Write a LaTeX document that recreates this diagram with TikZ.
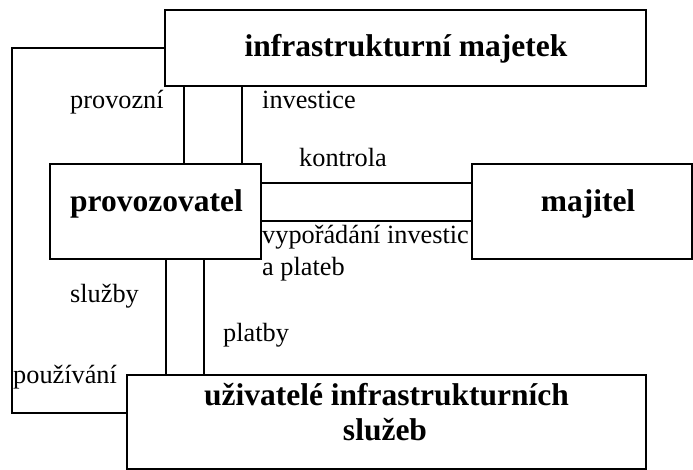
\documentclass[tikz,border=0pt]{standalone}
\usepackage{fontspec}
\setmainfont{Liberation Serif}
\begin{document}
\begin{tikzpicture}[x=1pt,y=-1pt,
  box/.style={draw,line width=2pt,rectangle,inner sep=0pt},
  title/.style={inner sep=0pt,anchor=base,font=\fontsize{31.5}{36}\selectfont\bfseries},
  lbl/.style={inner sep=0pt,anchor=base west,font=\fontsize{26.3}{30}\selectfont},
  link/.style={line width=2pt}]
\useasboundingbox (0,0) rectangle (693,470);
% boxes
\node[box,minimum width=481pt,minimum height=76pt] (asset) at (405.5,48) {};
\node[box,minimum width=211pt,minimum height=95pt] (oper) at (155.5,211.5) {};
\node[box,minimum width=220pt,minimum height=95pt] (owner) at (582,211.5) {};
\node[box,minimum width=519pt,minimum height=93.5pt] (users) at (386.5,421.75) {};
% box titles
\node[title] (tasset) at (406,56.7) {infrastrukturní majetek};
\node[title] (toper) at (156.5,212) {provozovatel};
\node[title] (towner) at (588,212) {majitel};
\node[title] (tusers1) at (386.5,405) {uživatelé infrastrukturních};
\node[title] (tusers2) at (385,440) {služeb};
% connectors
\coordinate (cA) at (184,0);
\coordinate (cB) at (242,0);
\coordinate (cC) at (0,183);
\coordinate (cD) at (0,221);
\coordinate (cE) at (166,0);
\coordinate (cF) at (204,0);
\coordinate (loopL) at (12,0);
\coordinate (loopB) at (0,413);
\draw[link] (asset.south -| cA) -- (oper.north -| cA);
\draw[link] (asset.south -| cB) -- (oper.north -| cB);
\draw[link] (oper.east |- cC) -- (owner.west |- cC);
\draw[link] (oper.east |- cD) -- (owner.west |- cD);
\draw[link] (oper.south -| cE) -- (users.north -| cE);
\draw[link] (oper.south -| cF) -- (users.north -| cF);
\draw[link,line join=miter] (asset.west) -- (asset.west -| loopL) -- (loopL |- loopB) -- (users.west |- loopB);
% connector labels
\node[lbl] (lprov) at (70,108.5) {provozní};
\node[lbl] (linv) at (262,108.5) {investice};
\node[lbl] (lkon) at (299,167) {kontrola};
\node[lbl] (lvyp) at (262,244) {vypořádání investic};
\node[lbl] (lplat) at (262,276) {a plateb};
\node[lbl] (lsluz) at (70,302) {služby};
\node[lbl] (lplatby) at (223,341) {platby};
\node[lbl] (lpouz) at (13,383) {používání};
\end{tikzpicture}
\end{document}
